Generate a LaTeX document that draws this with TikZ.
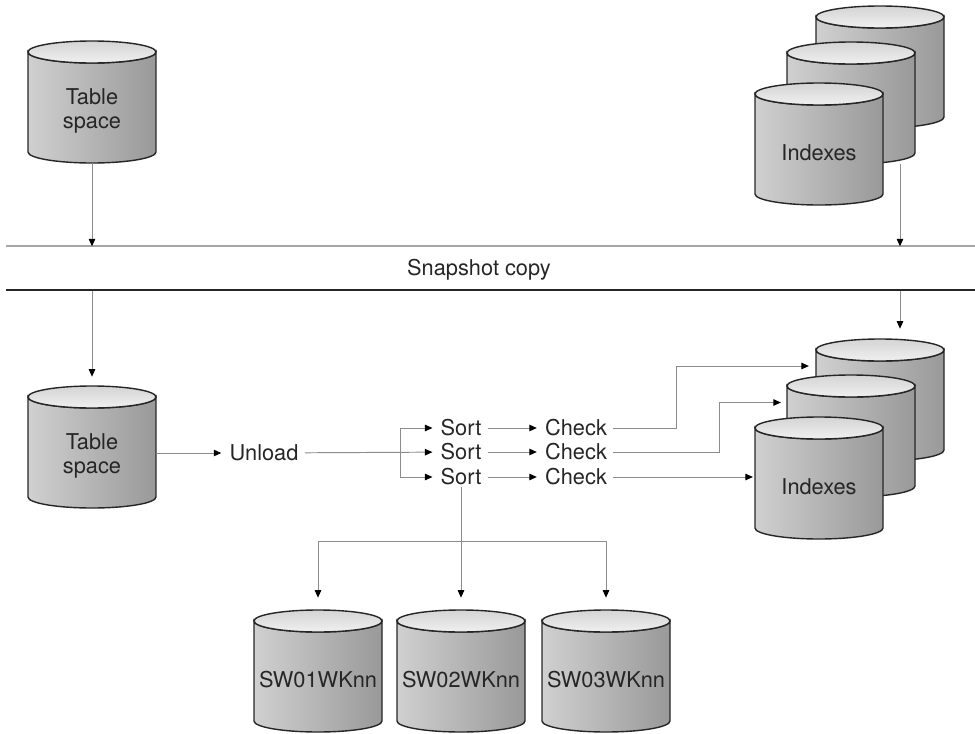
\documentclass[tikz,border=0pt]{standalone}
\usepackage{fontspec}
\setmainfont{TeX Gyre Heros}
\usepackage{tikz}
\usetikzlibrary{arrows.meta}

\definecolor{drumleft}{HTML}{D0D0D0}
\definecolor{drumright}{HTML}{999999}
\definecolor{drumlidback}{HTML}{D4D4D4}
\definecolor{drumlidfront}{HTML}{F0F0F0}
\definecolor{wire}{HTML}{8C8C8C}

\tikzset{
  flow/.style={wire, line width=0.55pt, shorten >=1pt,
    -{Triangle[length=0.15cm, width=0.13cm, color=black]}},
  drumbody/.style={draw=black!85, line width=0.8pt, left color=drumleft, right color=drumright},
  drumtop/.style={draw=black!85, line width=0.8pt, top color=drumlidback, bottom color=drumlidfront},
  drum/.style={rectangle, minimum width=2.56cm, minimum height=2.44cm, inner sep=0pt},
  drumtext/.style={align=center, font=\fontsize{12.4}{14}\selectfont, text=black!85},
  job/.style={inner xsep=3.5pt, inner ysep=1pt, font=\fontsize{12.4}{14}\selectfont, text=black!85},
}

% disk drum: name, x, y (centre), text
\newcommand{\drumat}[4]{%
  \shadedraw[drumbody] (#2-64,#3-50) -- (#2-64,#3+50)
    arc[start angle=180, end angle=0, x radius=64, y radius=11]
    -- (#2+64,#3-50)
    arc[start angle=0, end angle=180, x radius=64, y radius=11] -- cycle;
  \shadedraw[drumtop] (#2,#3-50) ellipse[x radius=64, y radius=11];
  \node[drum] (#1) at (#2,#3) {};
  \node[drumtext] at ([yshift=-0.18cm]#1.center) {#4};
}

\begin{document}
\begin{tikzpicture}[x=0.02cm, y=-0.02cm]
\useasboundingbox (0,0) rectangle (975,734);

% before the copy
\drumat{tsA}{92}{102}{Table\\space}
\drumat{ixTopC}{880}{67}{}
\drumat{ixTopB}{851}{103}{}
\drumat{ixTopA}{819}{144}{Indexes}

\coordinate (snapL) at (6,246);
\coordinate (snapR) at (975,246);
\coordinate (snapM) at (6,290);
\coordinate (snapN) at (975,290);
\draw[gray!70, line width=0.8pt] (snapL) -- (snapR);
\draw[black!85, line width=1.6pt] (snapM) -- (snapN);
\node[job] (snap) at (479,270) {Snapshot copy};

\draw[flow, shorten >=0pt] (tsA.south) -- ([yshift=-1.66cm]tsA.south);
\draw[flow, shorten >=0pt] ([xshift=0.98cm]ixTopB.south) -- ([xshift=0.98cm,yshift=-1.64cm]ixTopB.south);

% after the copy
\drumat{tsB}{92}{447}{Table\\space}
\drumat{ixC}{880}{400}{}
\drumat{ixB}{851}{436}{}
\drumat{ixA}{819}{478}{Indexes}

\draw[flow, shorten >=0pt] ([yshift=1.9cm]tsB.north) -- ([yshift=0.18cm]tsB.north);
\draw[flow, shorten >=0pt] ([xshift=0.4cm,yshift=0.96cm]ixC.north) -- ([xshift=0.4cm,yshift=0.2cm]ixC.north);

\node[job] (unload) at (264,453) {Unload};
\node[job] (sort1) at (461,428) {Sort};
\node[job] (sort2) at (461,452) {Sort};
\node[job] (sort3) at (461,477) {Sort};
\node[job] (check1) at (576,428) {Check};
\node[job] (check2) at (576,452) {Check};
\node[job] (check3) at (576,477) {Check};

\draw[flow] (tsB.east |- unload) -- (unload);
\draw[flow] (unload) -- (sort2);
\coordinate (fork) at (400,452);
\draw[flow] (fork) |- (sort1);
\draw[flow] (fork) |- (sort3);
\foreach \i in {1,2,3}
  \draw[flow] (sort\i) -- (check\i);

\draw[flow] (check1.east) -| ([xshift=-2.78cm,yshift=0.68cm]ixC.west) -- ([xshift=-0.1cm,yshift=0.68cm]ixC.west);
\draw[flow] (check2.east) -| ([xshift=-1.34cm,yshift=0.67cm]ixB.west) -- ([xshift=-0.08cm,yshift=0.67cm]ixB.west);
\draw[flow] (check3) -- (ixA.west |- check3);

% work data sets
\drumat{swA}{318}{671}{SW01WKnn}
\drumat{swB}{461}{671}{SW02WKnn}
\drumat{swC}{606}{671}{SW03WKnn}

\coordinate (split) at ([yshift=1.36cm]swB.north);
\draw[flow, shorten >=0.24cm] (sort3) -- (swB);
\draw[flow, shorten >=0.24cm] (split) -| (swA);
\draw[flow, shorten >=0.24cm] (split) -| (swC);
\end{tikzpicture}
\end{document}
